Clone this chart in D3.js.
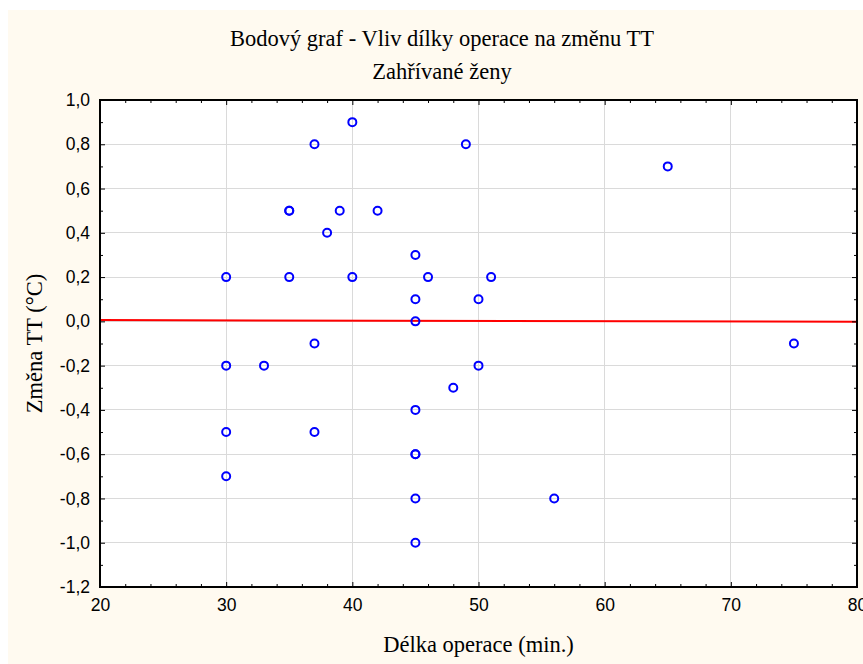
<!DOCTYPE html>
<html>
<head>
<meta charset="utf-8">
<script src="https://cdn.jsdelivr.net/npm/d3@7"></script>
<style>
  html, body { margin: 0; padding: 0; background: #ffffff; }
  svg { display: block; }
</style>
</head>
<body>
<svg id="chart" width="863" height="664"></svg>
<script>
// ---- Data ----
const durations = [30, 30, 30, 30, 33, 35, 35, 35, 37, 37, 37, 38, 39, 40, 40, 42,
                   45, 45, 45, 45, 45, 45, 45, 45, 46, 48, 49, 50, 50, 51, 56, 65, 75];
const tempChanges = [0.2, -0.2, -0.5, -0.7, -0.2, 0.5, 0.5, 0.2, 0.8, -0.1, -0.5, 0.4, 0.5, 0.9, 0.2, 0.5,
                     0.3, 0.1, 0.0, -0.4, -0.6, -0.6, -0.8, -1.0, 0.2, -0.3, 0.8, 0.1, -0.2, 0.2, -0.8, 0.7, -0.1];
const xTicks = [20, 30, 40, 50, 60, 70, 80];
const xMinorTicks = [22, 24, 26, 28, 32, 34, 36, 38, 42, 44, 46, 48, 52, 54, 56, 58, 62, 64, 66, 68, 72, 74, 76, 78];
const yTicks = [-1.2, -1.0, -0.8, -0.6, -0.4, -0.2, 0.0, 0.2, 0.4, 0.6, 0.8, 1.0];
const yMinorTicks = [-1.1, -0.9, -0.7, -0.5, -0.3, -0.1, 0.1, 0.3, 0.5, 0.7, 0.9];
const titleText = "Bodový graf - Vliv dílky operace na změnu TT";
const subtitleText = "Zahřívané ženy";
const xLabel = "Délka operace (min.)";
const yLabel = "Změna TT (°C)";

// ---- Layout ----
const svg = d3.select("#chart");
const W = 863, H = 664;
const plot = { left: 100, top: 100, right: 857, bottom: 587 };

const x = d3.scaleLinear().domain([20, 80]).range([plot.left, plot.right]);
const y = d3.scaleLinear().domain([-1.2, 1.0]).range([plot.bottom, plot.top]);

const loc = d3.formatLocale({ decimal: ",", thousands: " ", grouping: [3], currency: ["", ""], minus: "-" });
const fmtY = loc.format(".1f");
const fmtX = loc.format("d");

const sans = "'Liberation Sans', Arial, sans-serif";
const serif = "'Liberation Serif', 'Times New Roman', serif";

// background panel
svg.append("rect").attr("x", 8).attr("y", 10).attr("width", W - 8).attr("height", H - 10)
  .attr("fill", "#fffaf0");
// plot area
svg.append("rect").attr("x", plot.left).attr("y", plot.top)
  .attr("width", plot.right - plot.left).attr("height", plot.bottom - plot.top)
  .attr("fill", "#ffffff");

// grid
const grid = svg.append("g").attr("stroke", "#dadada").attr("stroke-width", 1).attr("shape-rendering", "crispEdges");
grid.selectAll("line.v").data(xTicks.slice(1, -1)).join("line")
  .attr("x1", d => x(d)).attr("x2", d => x(d)).attr("y1", plot.top).attr("y2", plot.bottom);
grid.selectAll("line.h").data(yTicks.slice(1, -1)).join("line")
  .attr("class", "h")
  .attr("x1", plot.left).attr("x2", plot.right).attr("y1", d => y(d)).attr("y2", d => y(d));

// regression line (least squares fit of the data)
const n = durations.length;
const mx = d3.mean(durations), my = d3.mean(tempChanges);
let sxy = 0, sxx = 0;
for (let i = 0; i < n; i++) {
  sxy += (durations[i] - mx) * (tempChanges[i] - my);
  sxx += (durations[i] - mx) ** 2;
}
const slope = sxy / sxx, intercept = my - slope * mx;
const xd = x.domain();
svg.append("line")
  .attr("x1", x(xd[0])).attr("y1", y(intercept + slope * xd[0]))
  .attr("x2", x(xd[1])).attr("y2", y(intercept + slope * xd[1]))
  .attr("stroke", "#ff0000").attr("stroke-width", 2);

// points
svg.append("g").selectAll("circle").data(durations.map((d, i) => [d, tempChanges[i]])).join("circle")
  .attr("cx", d => x(d[0])).attr("cy", d => y(d[1])).attr("r", 4)
  .attr("fill", "none").attr("stroke", "#0000ff").attr("stroke-width", 2);

// axes
function styleAxis(g) {
  g.selectAll(".domain").remove();
  g.selectAll(".tick line").attr("stroke", "#000").attr("stroke-width", 1);
  g.selectAll(".tick text").attr("font-family", sans).attr("font-size", "17.5px").attr("fill", "#000");
}
// left
svg.append("g").attr("transform", `translate(${plot.left},0)`)
  .call(d3.axisLeft(y).tickValues(yTicks).tickFormat(fmtY).tickSizeInner(-5).tickSizeOuter(0).tickPadding(10))
  .call(styleAxis);
svg.append("g").attr("transform", `translate(${plot.left},0)`)
  .call(d3.axisLeft(y).tickValues(yMinorTicks).tickFormat("").tickSizeInner(-3).tickSizeOuter(0))
  .call(styleAxis);
// right
svg.append("g").attr("transform", `translate(${plot.right},0)`)
  .call(d3.axisRight(y).tickValues(yTicks).tickFormat("").tickSizeInner(-5).tickSizeOuter(0))
  .call(styleAxis);
svg.append("g").attr("transform", `translate(${plot.right},0)`)
  .call(d3.axisRight(y).tickValues(yMinorTicks).tickFormat("").tickSizeInner(-3).tickSizeOuter(0))
  .call(styleAxis);
// bottom
svg.append("g").attr("transform", `translate(0,${plot.bottom})`)
  .call(d3.axisBottom(x).tickValues(xTicks).tickFormat(fmtX).tickSizeInner(-5).tickSizeOuter(0).tickPadding(12))
  .call(styleAxis);
svg.append("g").attr("transform", `translate(0,${plot.bottom})`)
  .call(d3.axisBottom(x).tickValues(xMinorTicks).tickFormat("").tickSizeInner(-3).tickSizeOuter(0))
  .call(styleAxis);
// top
svg.append("g").attr("transform", `translate(0,${plot.top})`)
  .call(d3.axisTop(x).tickValues(xTicks).tickFormat("").tickSizeInner(-5).tickSizeOuter(0))
  .call(styleAxis);
svg.append("g").attr("transform", `translate(0,${plot.top})`)
  .call(d3.axisTop(x).tickValues(xMinorTicks).tickFormat("").tickSizeInner(-3).tickSizeOuter(0))
  .call(styleAxis);

// frame
svg.append("rect").attr("x", plot.left).attr("y", plot.top)
  .attr("width", plot.right - plot.left).attr("height", plot.bottom - plot.top)
  .attr("fill", "none").attr("stroke", "#000").attr("stroke-width", 2);

// titles
svg.append("text").attr("x", 442).attr("y", 46).attr("text-anchor", "middle")
  .attr("font-family", serif).attr("font-size", "22.5px").attr("fill", "#000").text(titleText);
svg.append("text").attr("x", 442).attr("y", 79).attr("text-anchor", "middle")
  .attr("font-family", serif).attr("font-size", "22.5px").attr("fill", "#000").text(subtitleText);
svg.append("text").attr("x", (plot.left + plot.right) / 2).attr("y", 652).attr("text-anchor", "middle")
  .attr("font-family", serif).attr("font-size", "22.5px").attr("fill", "#000").text(xLabel);
svg.append("text").attr("transform", `translate(42,${(plot.top + plot.bottom) / 2}) rotate(-90)`)
  .attr("text-anchor", "middle")
  .attr("font-family", serif).attr("font-size", "22.5px").attr("fill", "#000").text(yLabel);
</script>
</body>
</html>
